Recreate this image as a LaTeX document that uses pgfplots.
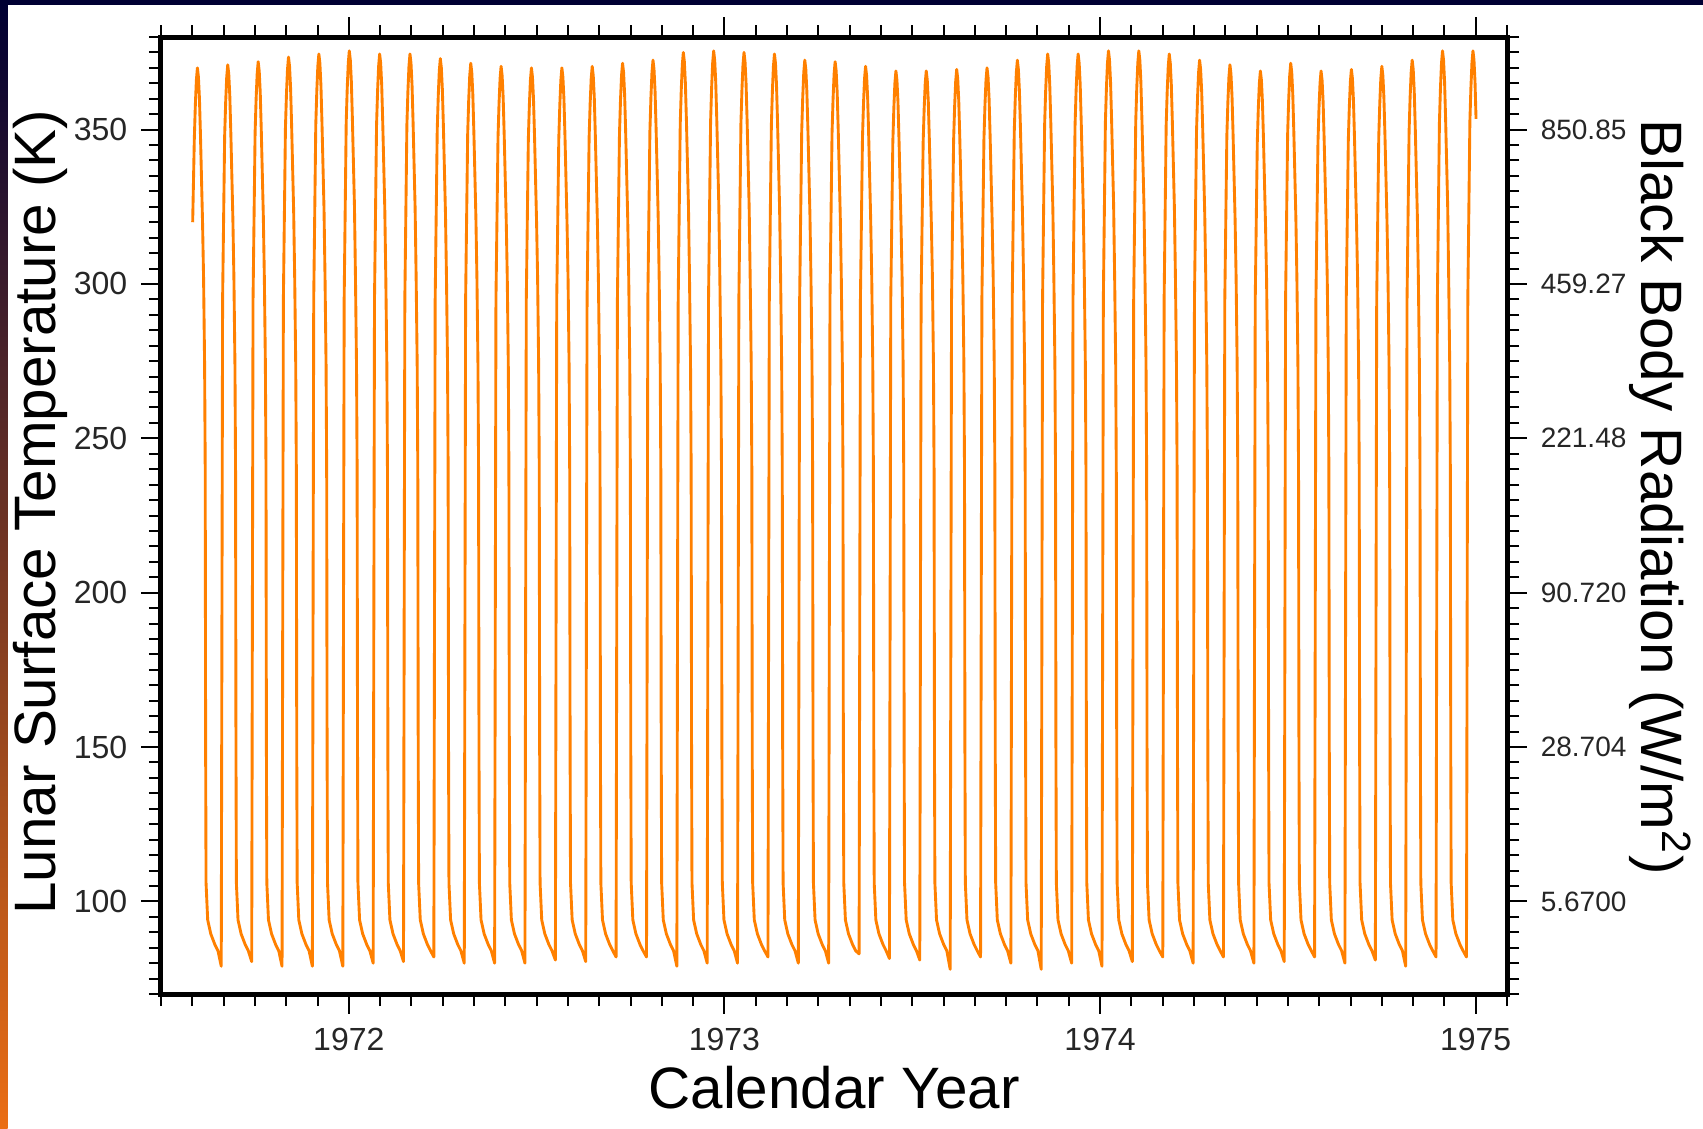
\documentclass[border=0pt]{standalone}
\usepackage{pgfplots}
\pgfplotsset{compat=1.18}
\usepackage{fontspec}
\setmainfont{Liberation Sans}

\definecolor{lunarorange}{RGB}{255,128,0}
\definecolor{framenavy}{RGB}{0,0,51}
\definecolor{framepurple}{RGB}{100,10,80}
\definecolor{frameorange}{RGB}{235,110,20}

% x data in days since 1971.5 (1 July 1971)
\begin{document}
\begin{tikzpicture}
\useasboundingbox (0,0) rectangle (425.75pt,282pt);
\fill[white] (0,0) rectangle (425.75pt,282pt);
\fill[framenavy] (0,280.75pt) rectangle (425.75pt,282pt);
\shade[top color=framenavy, middle color=framepurple, bottom color=frameorange] (0,0) rectangle (1.9pt,281pt);

\begin{axis}[
    at={(40.25pt,33.5pt)}, anchor=south west,
    width=336.5pt, height=239.25pt, scale only axis,
    xmin=0, xmax=1308.8,
    ymin=70, ymax=380,
    xtick={182.625,547.875,913.125,1278.375},
    xticklabels={1972,1973,1974,1975},
    minor xtick={0,30.4375,...,1310},
    ytick={100,150,200,250,300,350},
    yticklabels={100,150,200,250,300,350},
    minor ytick={70,75,...,380},
    xtick pos=both, ytick pos=left,
    tick align=outside,
    major tick length=4.9pt, minor tick length=3pt,
    tick style={black, line width=0.5pt},
    axis line style={line width=1.25pt},
    tick label style={font=\fontsize{8}{9}\selectfont, text=black!85},
    /pgf/number format/assume math mode=true,
    xlabel={Calendar Year},
    ylabel={Lunar Surface Temperature (K)},
    every axis x label/.style={at={(axis description cs:0.5,-0.0977)}, anchor=center, font=\fontsize{14.6}{16}\selectfont},
    every axis y label/.style={at={(axis description cs:-0.0899,0.5037)}, rotate=90, anchor=center, font=\fontsize{14.6}{16}\selectfont},
]
\addplot[draw=lunarorange, line width=0.72pt, mark=none, line join=round] coordinates {
(30.8,320) (32.4,347) (33.4,358) (34.4,366) (35.4,370) (36.4,367) (37.4,360) (38.4,348) (40.4,320) (41.4,302) (42.4,274) (43.0,240) (43.4,150) (43.8,106) (45.4,94) (48.4,89.5) (52.4,86) (55.4,84)
(58.6,79) (59.3,200) (59.9,295) (61.9,348) (62.9,359) (63.9,367) (64.9,371) (65.9,368) (66.9,361) (67.9,349) (69.9,321) (70.9,302) (71.9,274) (72.5,240) (72.9,150) (73.3,106) (74.9,94) (77.9,89.5) (81.9,86) (84.9,84)
(88.2,80.5) (88.9,200) (89.5,295) (91.5,349) (92.5,360) (93.5,368) (94.5,372) (95.5,369) (96.5,362) (97.5,350) (99.5,322) (100.5,302) (101.5,274) (102.1,240) (102.5,150) (102.9,106) (104.5,94) (107.5,89.5) (111.5,86) (114.5,84)
(117.7,79) (118.4,200) (119.0,295) (121.0,350.5) (122.0,361.5) (123.0,369.5) (124.0,373.5) (125.0,370.5) (126.0,363.5) (127.0,351.5) (129.0,323.5) (130.0,302) (131.0,274) (131.6,240) (132.0,150) (132.4,106) (134.0,94) (137.0,89.5) (141.0,86) (144.0,84)
(147.2,79) (147.9,200) (148.5,295) (150.5,351.5) (151.5,362.5) (152.5,370.5) (153.5,374.5) (154.5,371.5) (155.5,364.5) (156.5,352.5) (158.5,324.5) (159.5,302) (160.5,274) (161.1,240) (161.5,150) (161.9,106) (163.5,94) (166.5,89.5) (170.5,86) (173.5,84)
(176.8,79) (177.5,200) (178.1,295) (180.1,352.5) (181.1,363.5) (182.1,371.5) (183.1,375.5) (184.1,372.5) (185.1,365.5) (186.1,353.5) (188.1,325.5) (189.1,302) (190.1,274) (190.7,240) (191.1,150) (191.5,106) (193.1,94) (196.1,89.5) (200.1,86) (203.1,84)
(206.3,80) (207.0,200) (207.6,295) (209.6,351.5) (210.6,362.5) (211.6,370.5) (212.6,374.5) (213.6,371.5) (214.6,364.5) (215.6,352.5) (217.6,324.5) (218.6,302) (219.6,274) (220.2,240) (220.6,150) (221.0,106) (222.6,94) (225.6,89.5) (229.6,86) (232.6,84)
(235.8,80.5) (236.5,200) (237.1,295) (239.1,351.5) (240.1,362.5) (241.1,370.5) (242.1,374.5) (243.1,371.5) (244.1,364.5) (245.1,352.5) (247.1,324.5) (248.1,302) (249.1,274) (249.7,240) (250.1,150) (250.5,106) (252.1,94) (255.1,89.5) (259.1,86) (262.1,84)
(265.3,82) (266.0,200) (266.6,295) (268.6,350) (269.6,361) (270.6,369) (271.6,373) (272.6,370) (273.6,363) (274.6,351) (276.6,323) (277.6,302) (278.6,274) (279.2,240) (279.6,150) (280.0,106) (281.6,94) (284.6,89.5) (288.6,86) (291.6,84)
(294.9,80) (295.6,200) (296.2,295) (298.2,348.5) (299.2,359.5) (300.2,367.5) (301.2,371.5) (302.2,368.5) (303.2,361.5) (304.2,349.5) (306.2,321.5) (307.2,302) (308.2,274) (308.8,240) (309.2,150) (309.6,106) (311.2,94) (314.2,89.5) (318.2,86) (321.2,84)
(324.4,80) (325.1,200) (325.7,295) (327.7,347.5) (328.7,358.5) (329.7,366.5) (330.7,370.5) (331.7,367.5) (332.7,360.5) (333.7,348.5) (335.7,320.5) (336.7,302) (337.7,274) (338.3,240) (338.7,150) (339.1,106) (340.7,94) (343.7,89.5) (347.7,86) (350.7,84)
(353.9,80) (354.6,200) (355.2,295) (357.2,347) (358.2,358) (359.2,366) (360.2,370) (361.2,367) (362.2,360) (363.2,348) (365.2,320) (366.2,302) (367.2,274) (367.8,240) (368.2,150) (368.6,106) (370.2,94) (373.2,89.5) (377.2,86) (380.2,84)
(383.5,81) (384.2,200) (384.8,295) (386.8,347) (387.8,358) (388.8,366) (389.8,370) (390.8,367) (391.8,360) (392.8,348) (394.8,320) (395.8,302) (396.8,274) (397.4,240) (397.8,150) (398.2,106) (399.8,94) (402.8,89.5) (406.8,86) (409.8,84)
(413.0,80.5) (413.7,200) (414.3,295) (416.3,347.5) (417.3,358.5) (418.3,366.5) (419.3,370.5) (420.3,367.5) (421.3,360.5) (422.3,348.5) (424.3,320.5) (425.3,302) (426.3,274) (426.9,240) (427.3,150) (427.7,106) (429.3,94) (432.3,89.5) (436.3,86) (439.3,84)
(442.5,82) (443.2,200) (443.8,295) (445.8,348.5) (446.8,359.5) (447.8,367.5) (448.8,371.5) (449.8,368.5) (450.8,361.5) (451.8,349.5) (453.8,321.5) (454.8,302) (455.8,274) (456.4,240) (456.8,150) (457.2,106) (458.8,94) (461.8,89.5) (465.8,86) (468.8,84)
(472.1,82) (472.8,200) (473.4,295) (475.4,349.5) (476.4,360.5) (477.4,368.5) (478.4,372.5) (479.4,369.5) (480.4,362.5) (481.4,350.5) (483.4,322.5) (484.4,302) (485.4,274) (486.0,240) (486.4,150) (486.8,106) (488.4,94) (491.4,89.5) (495.4,86) (498.4,84)
(501.6,79) (502.3,200) (502.9,295) (504.9,352) (505.9,363) (506.9,371) (507.9,375) (508.9,372) (509.9,365) (510.9,353) (512.9,325) (513.9,302) (514.9,274) (515.5,240) (515.9,150) (516.3,106) (517.9,94) (520.9,89.5) (524.9,86) (527.9,84)
(531.1,80) (531.8,200) (532.4,295) (534.4,352.5) (535.4,363.5) (536.4,371.5) (537.4,375.5) (538.4,372.5) (539.4,365.5) (540.4,353.5) (542.4,325.5) (543.4,302) (544.4,274) (545.0,240) (545.4,150) (545.8,106) (547.4,94) (550.4,89.5) (554.4,86) (557.4,84)
(560.6,80) (561.3,200) (561.9,295) (563.9,352) (564.9,363) (565.9,371) (566.9,375) (567.9,372) (568.9,365) (569.9,353) (571.9,325) (572.9,302) (573.9,274) (574.5,240) (574.9,150) (575.3,106) (576.9,94) (579.9,89.5) (583.9,86) (586.9,84)
(590.2,82) (590.9,200) (591.5,295) (593.5,351.5) (594.5,362.5) (595.5,370.5) (596.5,374.5) (597.5,371.5) (598.5,364.5) (599.5,352.5) (601.5,324.5) (602.5,302) (603.5,274) (604.1,240) (604.5,150) (604.9,106) (606.5,94) (609.5,89.5) (613.5,86) (616.5,84)
(619.7,80) (620.4,200) (621.0,295) (623.0,349.5) (624.0,360.5) (625.0,368.5) (626.0,372.5) (627.0,369.5) (628.0,362.5) (629.0,350.5) (631.0,322.5) (632.0,302) (633.0,274) (633.6,240) (634.0,150) (634.4,106) (636.0,94) (639.0,89.5) (643.0,86) (646.0,84)
(649.2,80) (649.9,200) (650.5,295) (652.5,349) (653.5,360) (654.5,368) (655.5,372) (656.5,369) (657.5,362) (658.5,350) (660.5,322) (661.5,302) (662.5,274) (663.1,240) (663.5,150) (663.9,106) (665.5,94) (668.5,89.5) (672.5,86) (675.5,84)
(678.8,83) (679.5,200) (680.1,295) (682.1,347.5) (683.1,358.5) (684.1,366.5) (685.1,370.5) (686.1,367.5) (687.1,360.5) (688.1,348.5) (690.1,320.5) (691.1,302) (692.1,274) (692.7,240) (693.1,150) (693.5,106) (695.1,94) (698.1,89.5) (702.1,86) (705.1,84)
(708.3,81.5) (709.0,200) (709.6,295) (711.6,346) (712.6,357) (713.6,365) (714.6,369) (715.6,366) (716.6,359) (717.6,347) (719.6,319) (720.6,302) (721.6,274) (722.2,240) (722.6,150) (723.0,106) (724.6,94) (727.6,89.5) (731.6,86) (734.6,84)
(737.8,81) (738.5,200) (739.1,295) (741.1,346) (742.1,357) (743.1,365) (744.1,369) (745.1,366) (746.1,359) (747.1,347) (749.1,319) (750.1,302) (751.1,274) (751.7,240) (752.1,150) (752.5,106) (754.1,94) (757.1,89.5) (761.1,86) (764.1,84)
(767.4,78) (768.1,200) (768.7,295) (770.7,346.5) (771.7,357.5) (772.7,365.5) (773.7,369.5) (774.7,366.5) (775.7,359.5) (776.7,347.5) (778.7,319.5) (779.7,302) (780.7,274) (781.3,240) (781.7,150) (782.1,106) (783.7,94) (786.7,89.5) (790.7,86) (793.7,84)
(796.9,82) (797.6,200) (798.2,295) (800.2,347) (801.2,358) (802.2,366) (803.2,370) (804.2,367) (805.2,360) (806.2,348) (808.2,320) (809.2,302) (810.2,274) (810.8,240) (811.2,150) (811.6,106) (813.2,94) (816.2,89.5) (820.2,86) (823.2,84)
(826.4,80) (827.1,200) (827.7,295) (829.7,349.5) (830.7,360.5) (831.7,368.5) (832.7,372.5) (833.7,369.5) (834.7,362.5) (835.7,350.5) (837.7,322.5) (838.7,302) (839.7,274) (840.3,240) (840.7,150) (841.1,106) (842.7,94) (845.7,89.5) (849.7,86) (852.7,84)
(855.9,78) (856.6,200) (857.2,295) (859.2,351.5) (860.2,362.5) (861.2,370.5) (862.2,374.5) (863.2,371.5) (864.2,364.5) (865.2,352.5) (867.2,324.5) (868.2,302) (869.2,274) (869.8,240) (870.2,150) (870.6,106) (872.2,94) (875.2,89.5) (879.2,86) (882.2,84)
(885.5,80) (886.2,200) (886.8,295) (888.8,351.5) (889.8,362.5) (890.8,370.5) (891.8,374.5) (892.8,371.5) (893.8,364.5) (894.8,352.5) (896.8,324.5) (897.8,302) (898.8,274) (899.4,240) (899.8,150) (900.2,106) (901.8,94) (904.8,89.5) (908.8,86) (911.8,84)
(915.0,79) (915.7,200) (916.3,295) (918.3,352.5) (919.3,363.5) (920.3,371.5) (921.3,375.5) (922.3,372.5) (923.3,365.5) (924.3,353.5) (926.3,325.5) (927.3,302) (928.3,274) (928.9,240) (929.3,150) (929.7,106) (931.3,94) (934.3,89.5) (938.3,86) (941.3,84)
(944.5,80.5) (945.2,200) (945.8,295) (947.8,352.5) (948.8,363.5) (949.8,371.5) (950.8,375.5) (951.8,372.5) (952.8,365.5) (953.8,353.5) (955.8,325.5) (956.8,302) (957.8,274) (958.4,240) (958.8,150) (959.2,106) (960.8,94) (963.8,89.5) (967.8,86) (970.8,84)
(974.1,82) (974.8,200) (975.4,295) (977.4,351.5) (978.4,362.5) (979.4,370.5) (980.4,374.5) (981.4,371.5) (982.4,364.5) (983.4,352.5) (985.4,324.5) (986.4,302) (987.4,274) (988.0,240) (988.4,150) (988.8,106) (990.4,94) (993.4,89.5) (997.4,86) (1000.4,84)
(1003.6,80) (1004.3,200) (1004.9,295) (1006.9,349.5) (1007.9,360.5) (1008.9,368.5) (1009.9,372.5) (1010.9,369.5) (1011.9,362.5) (1012.9,350.5) (1014.9,322.5) (1015.9,302) (1016.9,274) (1017.5,240) (1017.9,150) (1018.3,106) (1019.9,94) (1022.9,89.5) (1026.9,86) (1029.9,84)
(1033.1,82) (1033.8,200) (1034.4,295) (1036.4,348) (1037.4,359) (1038.4,367) (1039.4,371) (1040.4,368) (1041.4,361) (1042.4,349) (1044.4,321) (1045.4,302) (1046.4,274) (1047.0,240) (1047.4,150) (1047.8,106) (1049.4,94) (1052.4,89.5) (1056.4,86) (1059.4,84)
(1062.7,80) (1063.4,200) (1064.0,295) (1066.0,346) (1067.0,357) (1068.0,365) (1069.0,369) (1070.0,366) (1071.0,359) (1072.0,347) (1074.0,319) (1075.0,302) (1076.0,274) (1076.6,240) (1077.0,150) (1077.4,106) (1079.0,94) (1082.0,89.5) (1086.0,86) (1089.0,84)
(1092.2,80.5) (1092.9,200) (1093.5,295) (1095.5,348.5) (1096.5,359.5) (1097.5,367.5) (1098.5,371.5) (1099.5,368.5) (1100.5,361.5) (1101.5,349.5) (1103.5,321.5) (1104.5,302) (1105.5,274) (1106.1,240) (1106.5,150) (1106.9,106) (1108.5,94) (1111.5,89.5) (1115.5,86) (1118.5,84)
(1121.7,82) (1122.4,200) (1123.0,295) (1125.0,346) (1126.0,357) (1127.0,365) (1128.0,369) (1129.0,366) (1130.0,359) (1131.0,347) (1133.0,319) (1134.0,302) (1135.0,274) (1135.6,240) (1136.0,150) (1136.4,106) (1138.0,94) (1141.0,89.5) (1145.0,86) (1148.0,84)
(1151.2,80) (1151.9,200) (1152.5,295) (1154.5,346.5) (1155.5,357.5) (1156.5,365.5) (1157.5,369.5) (1158.5,366.5) (1159.5,359.5) (1160.5,347.5) (1162.5,319.5) (1163.5,302) (1164.5,274) (1165.1,240) (1165.5,150) (1165.9,106) (1167.5,94) (1170.5,89.5) (1174.5,86) (1177.5,84)
(1180.8,81) (1181.5,200) (1182.1,295) (1184.1,347.5) (1185.1,358.5) (1186.1,366.5) (1187.1,370.5) (1188.1,367.5) (1189.1,360.5) (1190.1,348.5) (1192.1,320.5) (1193.1,302) (1194.1,274) (1194.7,240) (1195.1,150) (1195.5,106) (1197.1,94) (1200.1,89.5) (1204.1,86) (1207.1,84)
(1210.3,79) (1211.0,200) (1211.6,295) (1213.6,349.5) (1214.6,360.5) (1215.6,368.5) (1216.6,372.5) (1217.6,369.5) (1218.6,362.5) (1219.6,350.5) (1221.6,322.5) (1222.6,302) (1223.6,274) (1224.2,240) (1224.6,150) (1225.0,106) (1226.6,94) (1229.6,89.5) (1233.6,86) (1236.6,84)
(1239.8,82) (1240.5,200) (1241.1,295) (1243.1,352.5) (1244.1,363.5) (1245.1,371.5) (1246.1,375.5) (1247.1,372.5) (1248.1,365.5) (1249.1,353.5) (1251.1,325.5) (1252.1,302) (1253.1,274) (1253.7,240) (1254.1,150) (1254.5,106) (1256.1,94) (1259.1,89.5) (1263.1,86) (1266.1,84)
(1269.4,82) (1270.1,200) (1270.7,295) (1272.7,352.5) (1273.7,363.5) (1274.7,371.5) (1275.7,375.5) (1276.7,372.5) (1277.7,365.5) (1278.7,353.5)
};
\end{axis}

\begin{axis}[
    at={(40.25pt,33.5pt)}, anchor=south west,
    width=336.5pt, height=239.25pt, scale only axis,
    xmin=0, xmax=1308.8,
    ymin=70, ymax=380,
    hide x axis,
    axis y line*=right,
    y axis line style={draw=none},
    ytick={100,150,200,250,300,350},
    yticklabels={5.6700,28.704,90.720,221.48,459.27,850.85},
    minor ytick={70,75,...,380},
    tick align=outside,
    major tick length=4.9pt, minor tick length=3pt,
    tick style={black, line width=0.5pt},
    tick label style={font=\fontsize{7}{8}\selectfont, text=black!85},
    ylabel={Black Body Radiation (W/m\textsuperscript{2})},
    every axis y label/.style={at={(axis description cs:1.1137,0.5193)}, rotate=-90, anchor=center, font=\fontsize{14.6}{16}\selectfont},
]
\end{axis}
\end{tikzpicture}
\end{document}
